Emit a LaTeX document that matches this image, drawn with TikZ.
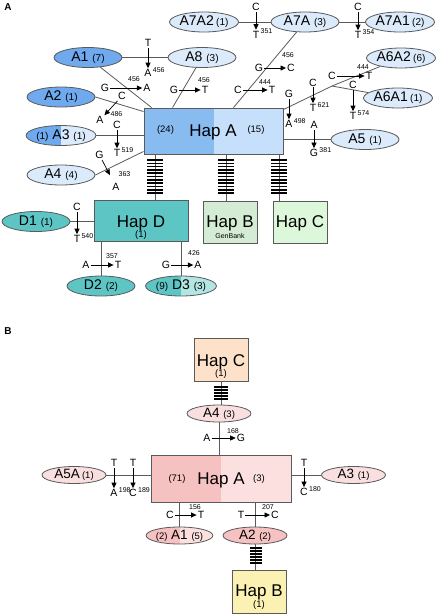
\documentclass[tikz,border=0pt]{standalone}
\usepackage{fontspec}
\setmainfont{Liberation Sans}
\usetikzlibrary{shapes.geometric,arrows.meta}

\definecolor{blueDark}{HTML}{6FA9EE}
\definecolor{blueMid}{HTML}{88BBF0}
\definecolor{blueLight}{HTML}{C6DFFA}
\definecolor{bluePale}{HTML}{DCEBFB}
\definecolor{hapTeal}{HTML}{5DC6C4}
\definecolor{hapTealLight}{HTML}{B3E5E3}
\definecolor{hapSage}{HTML}{D3ECD3}
\definecolor{hapMint}{HTML}{DCF7DA}
\definecolor{pinkDark}{HTML}{F6C1C1}
\definecolor{pinkLight}{HTML}{FCE0E0}
\definecolor{pinkPale}{HTML}{F9DFDF}
\definecolor{hapPeach}{HTML}{FDE1C9}
\definecolor{hapYellow}{HTML}{FBF1B3}
\definecolor{edgegray}{HTML}{5A5A5A}

\tikzset{
  hap/.style={draw=edgegray,line width=0.9pt,inner sep=0pt},
  hapname/.style={font=\fontsize{17}{17}\selectfont,anchor=base,inner sep=0pt},
  cnt/.style={font=\fontsize{9.5}{9.5}\selectfont,inner sep=0pt},
  hapell/.style={ellipse,draw=edgegray,line width=0.8pt,inner sep=0pt,
    minimum width=68pt,minimum height=20pt,font=\fontsize{14}{14}\selectfont},
  hapellb/.style={hapell,minimum width=64pt,minimum height=17pt,font=\fontsize{13.5}{13.5}\selectfont},
  split/.style={path picture={\fill[#1] (path picture bounding box.south west)
    rectangle (path picture bounding box.north);}},
  link/.style={draw=edgegray,line width=0.8pt},
  hatch/.style={draw=black,line width=1.6pt},
  base/.style={font=\fontsize{10.5}{10.5}\selectfont,inner sep=1pt},
  site/.style={font=\fontsize{7}{7}\selectfont,inner sep=0pt},
  mutarrow/.style={-{Triangle[length=5.5pt,width=5pt]},line width=0.7pt},
  panel/.style={font=\fontsize{10}{10}\selectfont\bfseries}
}

\begin{document}
\begin{tikzpicture}[x=1pt,y=-1pt]
\useasboundingbox (0,0) rectangle (438,614);

%%%%% panel A
\node[panel] (labA) at (8,7) {A};
\node[hap,fill=blueLight,split=blueMid,minimum width=139pt,minimum height=46pt] (hapA) at (213.5,131) {};
\node[hapname] (hapAname) at (213,136) {Hap A};
\node[cnt] (hapAleft) at (165.5,130) {(24)};
\node[cnt] (hapAright) at (256,130) {(15)};

\node[hap,fill=hapTeal,minimum width=94pt,minimum height=41pt] (hapD) at (141,220.5) {};
\node[hapname] (hapDname) at (141,227) {Hap D};
\node[cnt] (hapDcnt) at (141,235.5) {(1)};
\node[hap,fill=hapSage,minimum width=54pt,minimum height=42pt] (hapB) at (230,222) {};
\node[hapname] (hapBname) at (230,227) {Hap B};
\node[site] (hapBsrc) at (230,235.5) {GenBank};
\node[hap,fill=hapMint,minimum width=54pt,minimum height=42pt] (hapC) at (300,222) {};
\node[hapname] (hapCname) at (300,227) {Hap C};

\node[hapell,fill=bluePale] (a7a2) at (204,22) {A7A2\,{\fontsize{10}{10}\selectfont(1)}};
\node[hapell,fill=bluePale] (a7a) at (305,22) {A7A {\fontsize{10}{10}\selectfont(3)}};
\node[hapell,fill=bluePale] (a7a1) at (400,22) {A7A1\,{\fontsize{10}{10}\selectfont(2)}};
\node[hapell,fill=blueDark] (a1) at (88,57.5) {A1 {\fontsize{10}{10}\selectfont(7)}};
\node[hapell,fill=bluePale] (a8) at (202,57.5) {A8 {\fontsize{10}{10}\selectfont(3)}};
\node[hapell,fill=bluePale] (a6a2) at (401,58) {A6A2\,{\fontsize{10}{10}\selectfont(6)}};
\node[hapell,fill=bluePale] (a6a1) at (398,98) {A6A1\,{\fontsize{10}{10}\selectfont(1)}};
\node[hapell,fill=blueDark] (a2) at (61,97) {A2 {\fontsize{10}{10}\selectfont(1)}};
\node[hapell,fill=bluePale,split=blueDark] (a3) at (61,135.5) {{\fontsize{10}{10}\selectfont(1)} A3 {\fontsize{10}{10}\selectfont(1)}};
\node[hapell,fill=bluePale] (a5) at (365,139.5) {A5 {\fontsize{10}{10}\selectfont(1)}};
\node[hapell,fill=bluePale] (a4) at (61,175) {A4 {\fontsize{10}{10}\selectfont(4)}};
\node[hapell,fill=hapTeal] (d1) at (36,221.5) {D1 {\fontsize{10}{10}\selectfont(1)}};
\node[hapell,fill=hapTeal] (d2) at (101,286) {D2 {\fontsize{10}{10}\selectfont(2)}};
\node[hapell,fill=hapTealLight,split=hapTeal] (d3) at (181,286) {{\fontsize{10}{10}\selectfont(9)} D3 {\fontsize{10}{10}\selectfont(3)}};

\coordinate (fork) at (332,86);
\draw[link] (a1) -- (a8);
\draw[link] (a1) -- ([xshift=8pt]hapA.north west);
\draw[link] (a8) -- ([xshift=29pt]hapA.north west);
\draw[link] (a2.east) -- ([yshift=-4pt]hapA.north west);
\draw[link] (a3.east) -- (a3.east -| hapA.west);
\draw[link] (a4.east) -- ([yshift=3pt]hapA.south west);
\draw[link] ([xshift=20pt]hapA.north) -- (a7a);
\draw[link] (a7a2) -- (a7a);
\draw[link] (a7a) -- (a7a1);
\draw[link] ([yshift=-2pt]hapA.north east) -- (fork);
\draw[link] (fork) -- (a6a2);
\draw[link] (fork) -- (a6a1);
\draw[link] (a5.west) -- (a5.west -| hapA.east);
\draw[link] ([xshift=-58.5pt]hapA.south) -- ([xshift=-58.5pt]hapA.south |- hapD.north);
\draw[link] ([xshift=12.5pt]hapA.south) -- ([xshift=12.5pt]hapA.south |- hapB.north);
\draw[link] ([xshift=65.5pt]hapA.south) -- ([xshift=65.5pt]hapA.south |- hapC.north);
\draw[link] (d1.east) -- (d1.east -| hapD.west);
\draw[link] (d2.north) -- (d2.north |- hapD.south);
\draw[link] (d3.north) -- (d3.north |- hapD.south);
\foreach \xx in {155,226,279} {
\foreach \k in {0,...,10} {
\draw[hatch] (\xx-8,160+3.3*\k) -- (\xx+8,160+3.3*\k);
}
}

%%%%% panel B
\node[panel] (labB) at (8,331) {B};
\node[hap,fill=hapPeach,minimum width=54pt,minimum height=43pt] (bhapC) at (221,359.5) {};
\node[hapname] (bhapCname) at (221,366) {Hap C};
\node[cnt] (bhapCcnt) at (221,374.5) {(1)};
\node[hap,fill=pinkLight,split=pinkDark,minimum width=140pt,minimum height=47pt] (bhapA) at (221,478.5) {};
\node[hapname] (bhapAname) at (221,484) {Hap A};
\node[cnt] (bhapAleft) at (177,479) {(71)};
\node[cnt] (bhapAright) at (259,479) {(3)};
\node[hap,fill=hapYellow,minimum width=54pt,minimum height=43pt] (bhapB) at (259,591.5) {};
\node[hapname] (bhapBname) at (259,596.5) {Hap B};
\node[cnt] (bhapBcnt) at (259,605) {(1)};

\node[hapellb,fill=pinkPale] (ba4) at (219,413.5) {A4 {\fontsize{9.5}{9.5}\selectfont(3)}};
\node[hapellb,fill=pinkPale] (ba5a) at (74,475) {A5A\,{\fontsize{9.5}{9.5}\selectfont(1)}};
\node[hapellb,fill=pinkPale] (ba3) at (353.5,475) {A3 {\fontsize{9.5}{9.5}\selectfont(1)}};
\node[hapellb,fill=pinkLight,split=pinkDark] (ba1) at (179.5,535.5) {{\fontsize{9.5}{9.5}\selectfont(2)} A1 {\fontsize{9.5}{9.5}\selectfont(5)}};
\node[hapellb,fill=pinkDark] (ba2) at (255,535.5) {A2 {\fontsize{9.5}{9.5}\selectfont(2)}};

\draw[link] (bhapC.south) -- (bhapC.south |- ba4.north);
\draw[link] (ba4.south) -- (ba4.south |- bhapA.north);
\draw[link] (ba5a.east) -- (ba5a.east -| bhapA.west);
\draw[link] (ba3.west) -- (ba3.west -| bhapA.east);
\draw[link] (ba1.north) -- (ba1.north |- bhapA.south);
\draw[link] (ba2.north) -- (ba2.north |- bhapA.south);
\draw[link] (ba2.south) -- (ba2.south |- bhapB.north);
\foreach \k in {0,...,4} {
\draw[hatch] (221-7,387+3*\k) -- (221+7,387+3*\k);
}
\foreach \k in {0,...,5} {
\draw[hatch] (256-6,548+3*\k) -- (256+6,548+3*\k);
}

%%%%% mutations
% vertical: name/x/top y/bottom y/top base/bottom base/site
\foreach \nm/\xx/\ya/\yb/\ltop/\lbot/\site in {
  v1/148/43/73/T/A/456, v2/117/125/153/C/T/519, v3/256/7/34.5/C/T/351,
  v4/358/7/35/C/T/354, v5/289/94/124/G/A/498, v6/313/82.5/108/C/T/621,
  v7/353/85/116/C/T/574, v8/314/125/153/A/G/381, v9/77/207/239/C/T/540,
  v10/114/463/493/T/A/198, v11/133/463/493/T/C/189, v12/304/463/492/T/C/180} {
\node[base] (\nm-f) at (\xx,\ya) {\ltop};
\node[base] (\nm-t) at (\xx,\yb) {\lbot};
\draw[mutarrow] (\nm-f) -- (\nm-t);
\node[site,anchor=west] (\nm-s) at ([yshift=3pt]\nm-t.east) {\site};
}
% horizontal: name/left x/right x/y/left base/right base/site/site dx/site dy
\foreach \nm/\xa/\xb/\yy/\ltop/\lbot/\site/\dx/\dy in {
  h1/105/147/88/G/A/456/-13/9, h2/174/205/90/G/T/456/-1/10, h3/259/291/68/G/C/456/-3/13,
  h4/238/272/90/C/T/444/-7/8, h5/332/369/76/C/T/444/-6/9, h6/86/118/265/A/T/357/-6/9,
  h7/166/198/265/G/A/426/-4/12, h8/207/241/438/A/G/168/-8/7, h9/170/201/515/C/T/156/-6/8,
  h10/241/275/515/T/C/207/-7/8} {
\node[base] (\nm-f) at (\xa,\yy) {\ltop};
\node[base] (\nm-t) at (\xb,\yy) {\lbot};
\draw[mutarrow] (\nm-f) -- (\nm-t);
\node[site] (\nm-s) at ([xshift=\dx pt,yshift=\dy pt]\nm-t.center) {\site};
}
% diagonal
\node[base] (d1-f) at (122,96) {C};
\node[base] (d1-t) at (100,120) {A};
\draw[mutarrow] (d1-f) -- (d1-t);
\node[site] (d1-s) at (116.5,114) {486};
\node[base] (d2-f) at (99.5,155) {G};
\node[base] (d2-t) at (116,187) {A};
\draw[mutarrow,shorten >=8pt] (d2-f) -- (d2-t);
\node[site] (d2-s) at (124.5,174.5) {363};
\end{tikzpicture}
\end{document}
